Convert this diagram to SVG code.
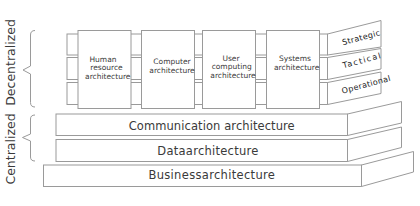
<svg xmlns="http://www.w3.org/2000/svg" width="420" height="206" viewBox="0 0 420 206">
<style>
.ln{fill:#fff;stroke:#9a9a9a;stroke-width:1}
.br{fill:none;stroke:#9a9a9a;stroke-width:1}
.t{font-family:"DejaVu Sans",Verdana,sans-serif;fill:#3a3a3a}
.s{font-size:7.5px;text-anchor:middle}
.m{font-size:11.5px;text-anchor:middle}
.r{font-size:8px;text-anchor:middle;fill:#222}
.big{font-size:12.5px;text-anchor:middle}
</style>
<rect width="420" height="206" fill="#fff"/>
<g id="labels">
<text class="t big" transform="translate(14.5,62.5) rotate(-90)">Decentralized</text>
<text class="t big" transform="translate(14.5,149) rotate(-90)">Centralized</text>
</g>
<g id="connectors">
<path class="br" d="M35,30.5 Q30.5,30.5 30.5,35 L30.5,66 L23,70 L30.5,74 L30.5,102.5 Q30.5,107 35,107"/>
<path class="br" d="M35,115 Q30.5,115 30.5,119 L30.5,134 L22.5,137.5 L30.5,141 L30.5,157 Q30.5,161 35,161"/>
</g>
<g id="strips">
<rect class="ln" x="67" y="34" width="260.5" height="21"/>
<rect class="ln" x="67" y="57.5" width="260.5" height="22"/>
<rect class="ln" x="67" y="82.5" width="260.5" height="22"/>
</g>
<g id="strategic">
<polygon class="ln" points="327.5,34 381,20.5 381,47 327.5,55"/>
<text class="t r" transform="translate(361,37.5) rotate(-15)" y="2.8" textLength="39" lengthAdjust="spacing">Strategic</text>
</g>
<g id="tactical">
<polygon class="ln" points="327.5,57.5 381,48.5 381,69 327.5,79.5"/>
<text class="t r" transform="translate(361.5,60.5) rotate(-15)" y="2.8" textLength="39" lengthAdjust="spacing">Tactical</text>
</g>
<g id="operational">
<polygon class="ln" points="327.5,82.5 381,72 381,93.5 327.5,104.5"/>
<text class="t r" transform="translate(366,84.5) rotate(-15)" y="2.8" textLength="50" lengthAdjust="spacing">Operational</text>
</g>
<g id="human">
<rect class="ln" x="78" y="30.5" width="53" height="78"/>
<text class="t s" x="103" y="62">Human</text>
<text class="t s" x="106.5" y="70.3">resource</text>
<text class="t s" x="107.8" y="78.6">architecture</text>
</g>
<g id="computer">
<rect class="ln" x="141.5" y="30.5" width="53" height="78"/>
<text class="t s" x="172" y="64.4">Computer</text>
<text class="t s" x="172" y="73.4">architecture</text>
</g>
<g id="user">
<rect class="ln" x="202.5" y="30.5" width="53" height="78"/>
<text class="t s" x="231" y="61">User</text>
<text class="t s" x="231.7" y="69.4">computing</text>
<text class="t s" x="233" y="78.4">architecture</text>
</g>
<g id="systems">
<rect class="ln" x="266.5" y="30.5" width="53" height="78"/>
<text class="t s" x="295" y="61">Systems</text>
<text class="t s" x="296.7" y="70">architecture</text>
</g>
<g id="communication">
<rect class="ln" x="56" y="114" width="291.5" height="21.5"/>
<polygon class="ln" points="347.5,114 401.5,101.5 401.5,123 347.5,135.5"/>
<text class="t m" x="211.7" y="129.8" textLength="166" lengthAdjust="spacing">Communication architecture</text>
</g>
<g id="data">
<rect class="ln" x="56" y="139.5" width="291.5" height="22"/>
<polygon class="ln" points="347.5,139.5 401.5,127 401.5,147.5 347.5,161.5"/>
<text class="t m" x="207.8" y="154.9" textLength="101" lengthAdjust="spacing">Dataarchitecture</text>
</g>
<g id="business">
<rect class="ln" x="43.5" y="165" width="318" height="21.5"/>
<polygon class="ln" points="361.5,165 413.5,151.5 413.5,172 361.5,186.5"/>
<text class="t m" x="211.7" y="179.2" textLength="126.5" lengthAdjust="spacing">Businessarchitecture</text>
</g>
</svg>
